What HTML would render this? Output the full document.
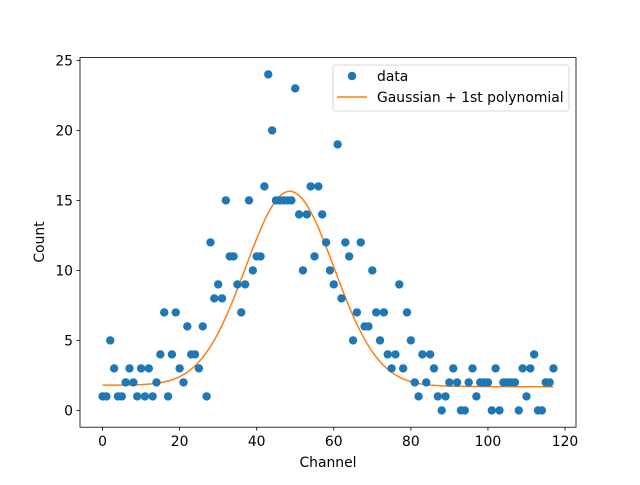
<!DOCTYPE html>
<html><head><meta charset="utf-8"><style>
body{margin:0;background:#fff}
svg text{font-family:"DejaVu Sans","Liberation Sans",sans-serif;font-size:13.9px;fill:#000}
</style></head><body>
<svg id="chart" width="640" height="480" xmlns="http://www.w3.org/2000/svg">
<rect width="640" height="480" fill="#fff"/>
<g id="curve"></g>
<g id="points"></g>
<rect x="80" y="57.6" width="496" height="369.6" fill="none" stroke="#000" stroke-width="0.8"/>
<g id="xticks"></g><g id="yticks"></g>
<text x="328" y="467" text-anchor="middle">Channel</text>
<text transform="translate(44,242) rotate(-90)" text-anchor="middle">Count</text>
<g>
<rect x="333" y="65" width="236" height="46" rx="2" fill="#fff" fill-opacity="0.8" stroke="#ccc" stroke-width="0.8"/>
<circle cx="352" cy="76" r="4.2" fill="#1f77b4"/>
<text x="377" y="81">data</text>
<line x1="337" y1="97" x2="367" y2="97" stroke="#ff7f0e" stroke-width="1.5"/>
<text x="377" y="102">Gaussian + 1st polynomial</text>
</g>
</svg>
<script>
const counts=[1,1,5,3,1,1,2,3,2,1,3,1,3,1,2,4,7,1,4,7,3,2,6,4,4,3,6,1,12,8,9,8,15,11,11,9,7,9,15,10,11,11,16,24,20,15,15,15,15,15,23,14,10,14,16,11,16,14,12,10,9,19,8,12,11,5,7,12,6,6,10,7,5,7,4,3,4,9,3,7,5,2,1,4,2,4,3,1,0,1,2,3,2,0,0,2,3,1,2,2,2,0,3,0,2,2,2,2,0,3,1,3,4,0,0,2,2,3];
const fitParams=[13.9,48.6,11.5,1.8,-0.001]; // amp, center, sigma, intercept, slope
const xTicks=[0,20,40,60,80,100,120];
const yTicks=[0,5,10,15,20,25];
const NS="http://www.w3.org/2000/svg";
const xs=v=>80+(v+5.85)/128.7*496;
const ys=v=>427.2-(v+1.2)/26.4*369.6;
const mk=(t,a)=>{const e=document.createElementNS(NS,t);for(const k in a)e.setAttribute(k,a[k]);return e;};
const pg=document.getElementById('points');
counts.forEach((c,i)=>{const e=mk('circle',{cx:xs(i),cy:ys(c),r:4.2,fill:'#1f77b4'});


pg.appendChild(e);});
const f=x=>fitParams[0]*Math.exp(-((x-fitParams[1])**2)/(2*fitParams[2]**2))+fitParams[3]+fitParams[4]*x;
let d='';for(let x=0;x<=counts.length-1;x+=0.5)d+=(x?'L':'M')+xs(x).toFixed(2)+','+ys(f(x)).toFixed(2);
const cp=mk('path',{d:d,fill:'none',stroke:'#ff7f0e','stroke-width':1.5});


document.getElementById('curve').appendChild(cp);
const xg=document.getElementById('xticks');
xTicks.forEach(t=>{const x=xs(t);
const l=mk('line',{x1:x,y1:427.2,x2:x,y2:430.7,stroke:'#000','stroke-width':0.8});


xg.appendChild(l);
const tx=mk('text',{x:x,y:446,'text-anchor':'middle'});tx.textContent=t;


xg.appendChild(tx);});
const yg=document.getElementById('yticks');
yTicks.forEach(t=>{const y=ys(t);
const l=mk('line',{x1:76.5,y1:y,x2:80,y2:y,stroke:'#000','stroke-width':0.8});


yg.appendChild(l);
const tx=mk('text',{x:73,y:y+5,'text-anchor':'end'});tx.textContent=t;


yg.appendChild(tx);});
</script>
</body></html>
